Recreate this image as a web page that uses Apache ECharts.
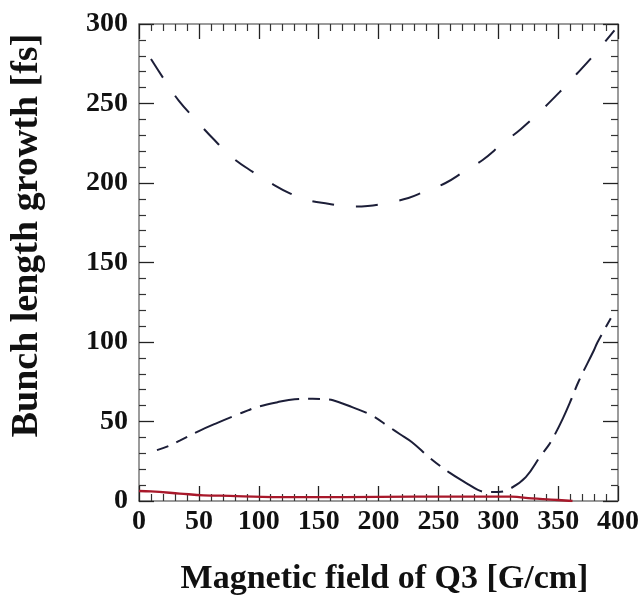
<!DOCTYPE html>
<html>
<head>
<meta charset="utf-8">
<script src="https://cdn.jsdelivr.net/npm/echarts@6/dist/echarts.min.js"></script>
<style>
  html, body { margin: 0; padding: 0; background: #fff; }
  #chart { width: 642px; height: 601px; }
</style>
</head>
<body>
<div id="chart"></div>
<script>
// upper curve (long dashes)
var upperField  = [10, 22, 33, 47, 63, 78, 95, 110, 126, 142, 158, 175, 191, 208, 225, 238, 256, 271, 287, 303, 319, 335, 351, 366, 381, 397];
var upperGrowth = [278, 264, 252, 240, 227, 216, 207, 200, 193.5, 189, 187, 185.2, 185.6, 187.6, 190.6, 194.5, 200, 207, 214.5, 224.5, 234, 245, 257, 269, 281.5, 296];
// lower curve (dash-dot)
var lowerField  = [15, 26, 34, 50, 65, 81, 91, 98, 115, 130, 145, 155, 162, 178, 194, 209, 218, 228, 243, 259, 275, 283, 290, 300, 310, 323, 335, 342, 346, 354, 361, 367, 380, 383, 394];
var lowerGrowth = [32, 35, 38, 44, 49, 54, 57, 59, 62, 64, 64.3, 64, 63.4, 59, 54, 46.5, 42, 37, 27, 18, 10.5, 7, 5.7, 5.7, 7.8, 15, 28, 35, 40, 52, 64, 75, 95, 100, 115];
// red solid curve
var redField  = [0, 10, 34, 54, 76, 103, 142, 200, 260, 311, 328, 344, 362];
var redGrowth = [6.3, 6, 4.7, 3.6, 3.2, 2.6, 2.4, 2.6, 2.8, 2.8, 1.6, 0.9, 0];

function pairs(xs, ys) {
    var out = [];
    for (var i = 0; i < xs.length; i++) out.push([xs[i], ys[i]]);
    return out;
}

var serif = "'Liberation Serif', 'DejaVu Serif', serif";
var lineCol = '#1c1e38';

// shared frame style: inward major + minor ticks on all four sides
var tickAxis = {
    axisLine: { show: true, onZero: false, lineStyle: { color: '#7a7a7a', width: 1.5 } },
    axisTick: { show: true, inside: true, length: 15, lineStyle: { color: '#222', width: 1.3 } },
    minorTick: { show: true, splitNumber: 5, length: 7, lineStyle: { color: '#333', width: 1.2 } },
    splitLine: { show: false }
};

function axis(base, extra) {
    return Object.assign({}, base, extra);
}

var option = {
    animation: false,
    backgroundColor: '#fff',
    grid: { left: 139, right: 22, top: 24, bottom: 99, containLabel: false },
    xAxis: [
        axis(tickAxis, {
            type: 'value', min: 0, max: 400, interval: 50, position: 'bottom',
            name: 'Magnetic field of Q3 [G/cm]',
            nameLocation: 'middle', nameGap: 61,
            nameTextStyle: { fontFamily: serif, fontWeight: 'bold', fontSize: 34, color: '#111', padding: [0, 0, 0, 12] },
            axisLabel: { fontFamily: serif, fontWeight: 'bold', fontSize: 28, color: '#111', margin: 7 }
        }),
        axis(tickAxis, {
            type: 'value', min: 0, max: 400, interval: 50, position: 'top',
            axisLabel: { show: false }
        })
    ],
    yAxis: [
        axis(tickAxis, {
            type: 'value', min: 0, max: 300, interval: 50, position: 'left',
            name: 'Bunch length growth [fs]',
            nameLocation: 'middle', nameGap: 93,
            nameTextStyle: { fontFamily: serif, fontWeight: 'bold', fontSize: 38, color: '#111', padding: [0, 0, 0, 54] },
            axisLabel: { fontFamily: serif, fontWeight: 'bold', fontSize: 28, color: '#111', margin: 11 }
        }),
        axis(tickAxis, {
            type: 'value', min: 0, max: 300, interval: 50, position: 'right',
            axisLabel: { show: false }
        })
    ],
    series: [
        {
            name: 'upper', type: 'line', smooth: 0.4, symbol: 'none',
            lineStyle: { color: lineCol, width: 2, type: [22, 22] },
            data: pairs(upperField, upperGrowth)
        },
        {
            name: 'lower', type: 'line', smooth: 0.4, symbol: 'none',
            lineStyle: { color: lineCol, width: 2, type: [40, 9, 12, 9], dashOffset: 28 },
            data: pairs(lowerField, lowerGrowth)
        },
        {
            name: 'red', type: 'line', smooth: 0.4, symbol: 'none',
            lineStyle: { color: '#a8182a', width: 2.3 },
            data: pairs(redField, redGrowth)
        }
    ]
};

var chart = echarts.init(document.getElementById('chart'), null, { renderer: 'canvas' });
chart.setOption(option);
</script>
</body>
</html>
